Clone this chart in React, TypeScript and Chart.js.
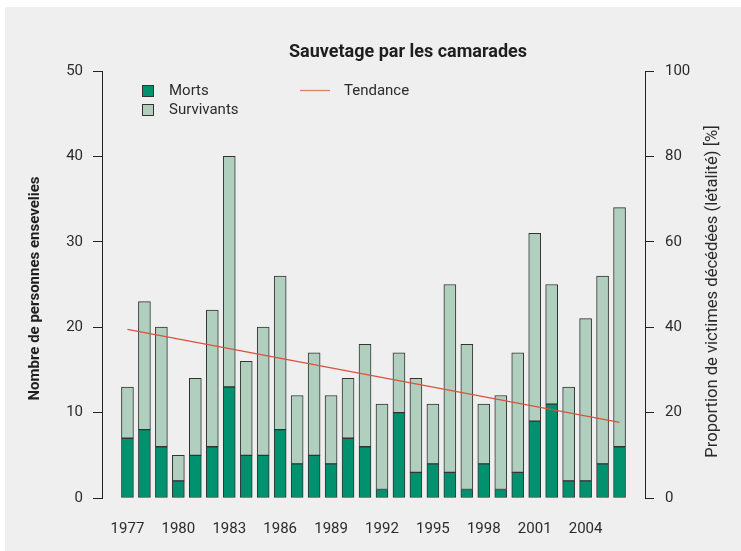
import React, { useEffect, useRef } from "react";
import { Chart, registerables } from "chart.js";

Chart.register(...registerables);

const years = [
  1977, 1978, 1979, 1980, 1981, 1982, 1983, 1984, 1985, 1986,
  1987, 1988, 1989, 1990, 1991, 1992, 1993, 1994, 1995, 1996,
  1997, 1998, 1999, 2000, 2001, 2002, 2003, 2004, 2005, 2006,
];
const morts = [
  7, 8, 6, 2, 5, 6, 13, 5, 5, 8,
  4, 5, 4, 7, 6, 1, 10, 3, 4, 3,
  1, 4, 1, 3, 9, 11, 2, 2, 4, 6,
];
const survivants = [
  6, 15, 14, 3, 9, 16, 27, 11, 15, 18,
  8, 12, 8, 7, 12, 10, 7, 11, 7, 22,
  17, 7, 11, 14, 22, 14, 11, 19, 22, 28,
];
const trendYears = [1977, 2006];
const trendValues = [39.5, 17.7];
const xTickYears = [1977, 1980, 1983, 1986, 1989, 1992, 1995, 1998, 2001, 2004];
const leftTicks = [0, 10, 20, 30, 40, 50];
const rightTicks = [0, 20, 40, 60, 80, 100];

const TITLE = "Sauvetage par les camarades";
const LEFT_TITLE = "Nombre de personnes ensevelies";
const RIGHT_TITLE = "Proportion de victimes décédées (létalité) [%]";
const LEGEND_MORTS = "Morts";
const LEGEND_SURV = "Survivants";
const LEGEND_TREND = "Tendance";

const FONT = "Roboto, 'Liberation Sans', sans-serif";
const TEXT = "#2b2b2b";
const AXIS = "#222222";
const GREEN = "#00916f";
const LIGHT = "#b1cfbf";
const BORDER = "#333333";
const TREND = "#d9533c";

const decor = {
  id: "decor",
  beforeDraw(chart: any) {
    const ctx = chart.ctx;
    ctx.save();
    ctx.fillStyle = "#ffffff";
    ctx.fillRect(0, 0, chart.width, chart.height);
    ctx.fillStyle = "#efefef";
    ctx.fillRect(5, 7, chart.width - 5, chart.height - 7);
    ctx.restore();
  },
  afterDraw(chart: any) {
    const ctx = chart.ctx;
    const area = chart.chartArea;
    ctx.save();
    ctx.fillStyle = "#1e1e1e";
    ctx.textAlign = "center";
    ctx.textBaseline = "middle";
    ctx.font = `bold 18px ${FONT}`;
    ctx.fillText(TITLE, 408, 52);

    // left axis title
    ctx.save();
    ctx.translate(35, (area.top + area.bottom) / 2 + 4);
    ctx.rotate(-Math.PI / 2);
    ctx.font = `bold 15px ${FONT}`;
    ctx.fillStyle = "#1e1e1e";
    ctx.fillText(LEFT_TITLE, 0, 0);
    ctx.restore();

    // right axis title
    ctx.save();
    ctx.translate(713, (area.top + area.bottom) / 2 + 7);
    ctx.rotate(-Math.PI / 2);
    ctx.font = `16.6px ${FONT}`;
    ctx.fillStyle = TEXT;
    ctx.fillText(RIGHT_TITLE, 0, 0);
    ctx.restore();

    // legend
    ctx.textAlign = "left";
    ctx.font = `15px ${FONT}`;
    ctx.lineWidth = 1;
    ctx.strokeStyle = BORDER;
    ctx.fillStyle = GREEN;
    ctx.fillRect(142.5, 85.5, 11, 11);
    ctx.strokeRect(142.5, 85.5, 11, 11);
    ctx.fillStyle = LIGHT;
    ctx.fillRect(142.5, 104.5, 11, 11);
    ctx.strokeRect(142.5, 104.5, 11, 11);
    ctx.fillStyle = TEXT;
    ctx.fillText(LEGEND_MORTS, 169, 91);
    ctx.fillText(LEGEND_SURV, 169, 110);
    ctx.strokeStyle = "#e0806c";
    ctx.lineWidth = 1.3;
    ctx.beginPath();
    ctx.moveTo(300, 90.5);
    ctx.lineTo(330, 90.5);
    ctx.stroke();
    ctx.fillText(LEGEND_TREND, 344, 91);
    ctx.restore();
  },
};

export default function App() {
  const ref = useRef<HTMLCanvasElement>(null);
  useEffect(() => {
    if (!ref.current) return;
    const tickFont = { family: FONT, size: 15 };
    const chart = new Chart(ref.current, {
      type: "bar",
      data: {
        datasets: [
          {
            type: "line",
            label: LEGEND_TREND,
            data: trendYears.map((x, i) => ({ x, y: trendValues[i] })),
            yAxisID: "y2",
            borderColor: TREND,
            borderWidth: 1.3,
            pointRadius: 0,
            fill: false,
            order: 0,
          } as any,
          {
            label: LEGEND_MORTS,
            data: years.map((x, i) => ({ x, y: morts[i] })),
            backgroundColor: GREEN,
            borderColor: BORDER,
            borderWidth: 1,
            borderSkipped: false,
            barThickness: 12,
            yAxisID: "y",
            order: 1,
          },
          {
            label: LEGEND_SURV,
            data: years.map((x, i) => ({ x, y: survivants[i] })),
            backgroundColor: LIGHT,
            borderColor: BORDER,
            borderWidth: 1,
            borderSkipped: false,
            barThickness: 12,
            yAxisID: "y",
            order: 1,
          },
        ],
      },
      options: {
        animation: false,
        responsive: false,
        maintainAspectRatio: false,
        layout: { padding: { top: 71, left: 0, right: 0, bottom: 0 } },
        plugins: {
          legend: { display: false },
          title: { display: false },
          tooltip: { enabled: false },
        },
        scales: {
          x: {
            type: "linear",
            min: 1975.5,
            max: 2007.5,
            offset: false,
            stacked: true,
            grid: { display: false, drawTicks: false, offset: false },
            border: { display: false },
            ticks: {
              font: tickFont,
              color: TEXT,
              padding: 22,
              maxRotation: 0,
              autoSkip: false,
              callback: (v: any) => String(v),
            },
            afterBuildTicks: (s: any) => {
              s.ticks = xTickYears.map((v) => ({ value: v }));
            },
            afterFit: (s: any) => {
              s.height = 53;
            },
          },
          y: {
            position: "left",
            stacked: true,
            min: 0,
            max: 50,
            grid: { drawOnChartArea: false, drawTicks: true, tickLength: 9, color: AXIS, lineWidth: 1 },
            border: { display: true, color: AXIS, width: 1 },
            ticks: { font: tickFont, color: TEXT, padding: 10 },
            afterBuildTicks: (s: any) => {
              s.ticks = leftTicks.map((v) => ({ value: v }));
            },
            afterFit: (s: any) => {
              s.width = 102;
            },
          },
          y2: {
            position: "right",
            min: 0,
            max: 100,
            grid: { drawOnChartArea: false, drawTicks: true, tickLength: 9, color: AXIS, lineWidth: 1 },
            border: { display: true, color: AXIS, width: 1 },
            ticks: { font: tickFont, color: TEXT, padding: 11 },
            afterBuildTicks: (s: any) => {
              s.ticks = rightTicks.map((v) => ({ value: v }));
            },
            afterFit: (s: any) => {
              s.width = 96;
            },
          },
        },
      },
      plugins: [decor],
    });
    return () => chart.destroy();
  }, []);
  return (
    <div style={{ position: "fixed", left: 0, top: 0, width: 741, height: 551, background: "#fff" }}>
      <canvas ref={ref} width={741} height={551} style={{ display: "block", width: 741, height: 551 }} />
    </div>
  );
}
